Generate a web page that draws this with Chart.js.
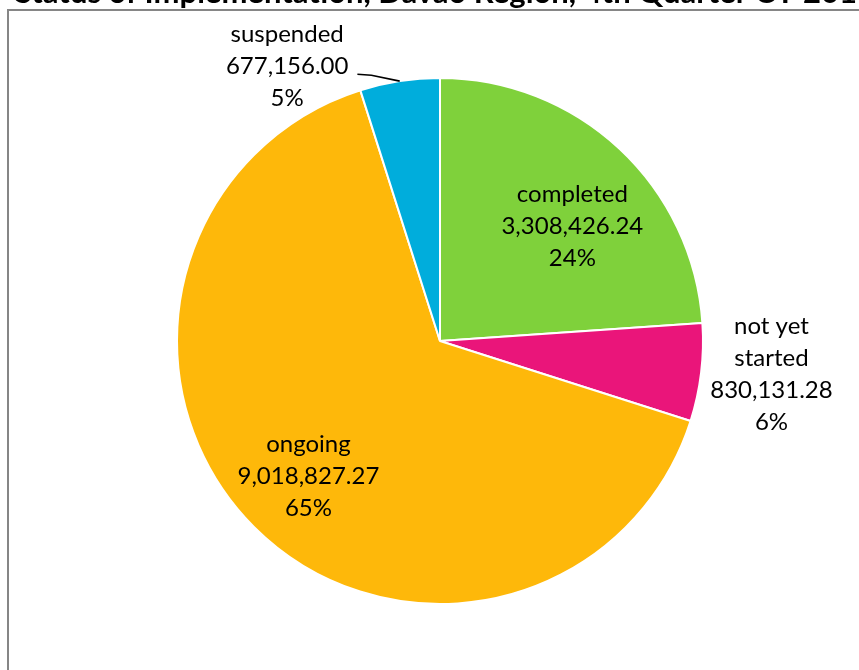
<!DOCTYPE html>
<html>
<head>
<meta charset="utf-8">
<script src="https://cdn.jsdelivr.net/npm/chart.js@4/dist/chart.umd.min.js"></script>
<style>
  html, body { margin: 0; padding: 0; background: #fff; overflow: hidden; }
  #wrap { position: relative; width: 859px; height: 670px; }
</style>
</head>
<body>
<div id="wrap"><canvas id="c" width="859" height="670"></canvas></div>
<script>
// Project cost by implementation status
const titleText = 'Status of Implementation, Davao Region, 4th Quarter CY 2018';
const statuses = ['completed', 'not yet started', 'ongoing', 'suspended'];
const amounts = [3308426.24, 830131.28, 9018827.27, 677156.00];
const sliceColors = ['#7FD13B', '#EA157A', '#FEB80A', '#00ADDC'];

// label text split into lines, as displayed beside each slice
const nameLines = [['completed'], ['not yet', 'started'], ['ongoing'], ['suspended']];

// label anchor: fraction of radius and angular nudge (degrees) from slice middle
const labelPlacement = [
  { f: 0.648, da: 7.9 },
  { f: 1.270, da: 0.2 },
  { f: 0.740, da: -2.5 },
  { f: 1.169, da: -21.0, leader: true }
];

const LABEL_FONT = '24px Lato';
const LINE_H = 32;

function fmt(v) {
  return v.toLocaleString('en-US', { minimumFractionDigits: 2, maximumFractionDigits: 2 });
}

const frameAndTitle = {
  id: 'frameAndTitle',
  beforeDraw(chart) {
    const ctx = chart.ctx;
    ctx.save();
    ctx.fillStyle = '#fff';
    ctx.fillRect(0, 0, chart.width, chart.height);
    ctx.strokeStyle = '#868686';
    ctx.lineWidth = 2;
    ctx.strokeRect(8, 10, chart.width + 40, chart.height + 40);
    ctx.fillStyle = '#000';
    ctx.font = 'bold 31px Lato';
    ctx.textBaseline = 'alphabetic';
    ctx.textAlign = 'left';
    ctx.fillText(titleText, 15, 3);
    ctx.restore();
  }
};

const sliceLabels = {
  id: 'sliceLabels',
  afterDatasetsDraw(chart) {
    const ctx = chart.ctx;
    const meta = chart.getDatasetMeta(0);
    const data = chart.data.datasets[0].data;
    const total = data.reduce((a, b) => a + b, 0);
    ctx.save();
    ctx.font = LABEL_FONT;
    ctx.fillStyle = '#000';
    ctx.textAlign = 'center';
    ctx.textBaseline = 'alphabetic';
    meta.data.forEach((arc, i) => {
      const p = arc.getProps(['x', 'y', 'startAngle', 'endAngle', 'outerRadius'], true);
      const mid = (p.startAngle + p.endAngle) / 2;
      const pl = labelPlacement[i];
      const a = mid + pl.da * Math.PI / 180;
      const cx = p.x + Math.cos(a) * p.outerRadius * pl.f;
      const cy = p.y + Math.sin(a) * p.outerRadius * pl.f;
      const valueText = fmt(data[i]);
      const lines = nameLines[i].concat([valueText, Math.round(data[i] / total * 100) + '%']);
      const n = lines.length;
      lines.forEach((t, k) => {
        ctx.fillText(t, cx, cy + (k - (n - 1) / 2) * LINE_H);
      });
      if (pl.leader) {
        // leader from the value line to the slice edge
        const vIdx = nameLines[i].length;
        const vy = cy + (vIdx - (n - 1) / 2) * LINE_H;
        const w = ctx.measureText(valueText).width;
        const sx = cx + w / 2 + 9;
        const ex = p.x + Math.cos(mid) * p.outerRadius;
        const ey = p.y + Math.sin(mid) * p.outerRadius;
        ctx.beginPath();
        ctx.strokeStyle = '#000';
        ctx.lineWidth = 1.6;
        ctx.moveTo(sx, vy);
        ctx.lineTo(sx + 14, vy + 1);
        ctx.lineTo(ex, ey);
        ctx.stroke();
      }
    });
    ctx.restore();
  }
};

new Chart(document.getElementById('c'), {
  type: 'pie',
  data: {
    labels: statuses,
    datasets: [{
      data: amounts,
      backgroundColor: sliceColors,
      borderColor: '#ffffff',
      borderWidth: 2,
      hoverOffset: 0
    }]
  },
  options: {
    responsive: false,
    animation: false,
    events: [],
    layout: { padding: { left: 176, right: 155, top: 77, bottom: 65 } },
    plugins: {
      legend: { display: false },
      tooltip: { enabled: false },
      title: { display: false }
    }
  },
  plugins: [frameAndTitle, sliceLabels]
});
</script>
</body>
</html>
